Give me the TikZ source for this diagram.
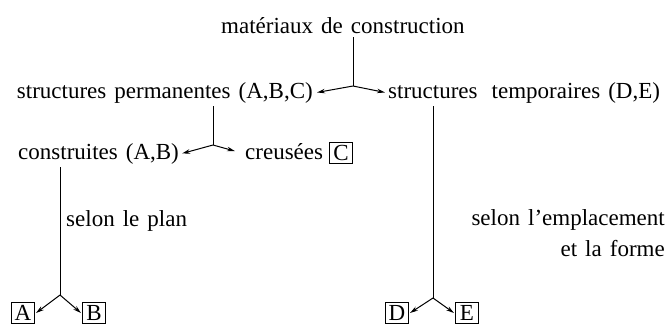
\documentclass[tikz,border=0pt]{standalone}
\usepackage{fontspec}
\setmainfont{Liberation Serif}[WordSpace=1.4]
\usetikzlibrary{arrows.meta}
\begin{document}
\begin{tikzpicture}[x=1pt,y=1pt,
  lbl/.style={inner sep=0pt, font=\fontsize{23}{27}\selectfont},
  boxn/.style={draw, line width=1pt, inner sep=0pt, minimum width=23pt, minimum height=21pt, font=\fontsize{23}{27}\selectfont},
  conn/.style={line width=1pt},
  arr/.style={line width=1pt, -{Stealth[length=8pt,width=4.5pt]}}]
\useasboundingbox (0,0) rectangle (670,-325);
\node[lbl, anchor=base west] (title) at (221,-33) {matériaux de construction};
\node[lbl, anchor=base east] (perm) at (313,-98) {structures permanentes (A,B,C)};
\node[lbl, anchor=base west] (temp) at (388,-98) {structures\hspace{6pt} temporaires (D,E)};
\node[lbl, anchor=base west] (constr) at (18,-159) {construites (A,B)};
\node[lbl, anchor=base west] (creu) at (245,-159) {creusées};
\node[boxn] (C) at (341,-153) {C};
\node[lbl, anchor=base west] (plan) at (66,-226) {selon le plan};
\node[lbl, anchor=base east] (empl) at (665,-225) {selon l'emplacement};
\node[lbl, anchor=base east] (forme) at (665,-256) {et la forme};
\node[boxn] (A) at (23,-313) {A};
\node[boxn] (B) at (94,-313) {B};
\node[boxn] (D) at (397,-313) {D};
\node[boxn] (E) at (467,-313) {E};
\coordinate (b1) at (353,-86);
\coordinate (b2) at (213,-145);
\coordinate (b3) at (60,-295);
\coordinate (b4) at (433,-298);
\draw[conn] ([yshift=-4pt]title.south -| b1) -- (b1);
\draw[arr] (b1) -- ([xshift=4pt]perm.east);
\draw[arr] (b1) -- ([xshift=-3pt]temp.west);
\draw[conn] ([yshift=-3pt]perm.south -| b2) -- (b2);
\draw[arr] (b2) -- ([xshift=3pt]constr.east);
\draw[arr] (b2) -- ([xshift=-10pt]creu.west);
\draw[conn] ([yshift=-3pt]constr.south -| b3) -- (b3);
\draw[arr] (b3) -- ([xshift=1pt]A.east);
\draw[arr] (b3) -- ([xshift=-1pt]B.west);
\draw[conn] ([yshift=-3pt]temp.south -| b4) -- (b4);
\draw[arr] (b4) -- ([xshift=1pt]D.east);
\draw[arr] (b4) -- ([xshift=-1pt]E.west);
\end{tikzpicture}
\end{document}
